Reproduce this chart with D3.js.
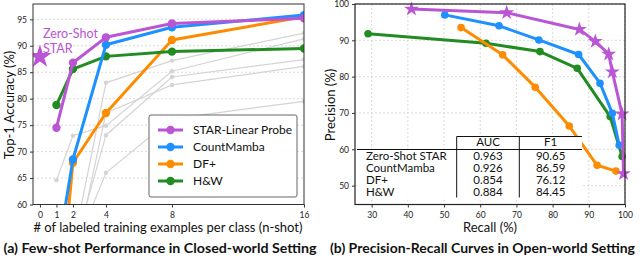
<!DOCTYPE html>
<html><head><meta charset="utf-8">
<script src="https://cdn.jsdelivr.net/npm/d3@7"></script>
<style>
html,body{margin:0;padding:0;background:#fff;}
svg{display:block;font-family:Lato,"Open Sans",sans-serif;}
</style></head>
<body><svg id="c" width="640" height="259"></svg>
<script>
// ---------- data: (a) few-shot ----------
const shots = [1, 2, 4, 8, 16];
const xTicksA = [0, 1, 2, 4, 8, 16];
const yTicksA = [60, 65, 70, 75, 80, 85, 90, 95];
const zeroShotStar = 87.9;
const starLinearProbe = [74.5, 86.8, 91.6, 94.2, 95.2];
const countMambaA = [49.5, 68.5, 90.2, 93.5, 95.8];
const dfPlusA = [35.0, 67.9, 77.3, 91.1, 95.5];
const hwA = [78.8, 85.6, 88.0, 88.9, 89.5];
const baseline1 = [64.6, 73.0, 74.9, 85.2, 91.3];
const baseline2 = [40.0, 52.0, 83.0, 87.2, 92.4];
const baseline3 = [40.0, 50.9, 73.1, 84.1, 87.4];
const baseline4 = [40.0, 50.6, 66.0, 76.2, 79.5];
const baseline5 = [40.0, 48.0, 77.3, 82.6, 86.1];
const legendNames = ["STAR-Linear Probe", "CountMamba", "DF+", "H&W"];

// ---------- data: (b) precision-recall ----------
const xTicksB = [30, 40, 50, 60, 70, 80, 90, 100];
const yTicksB = [50, 60, 70, 80, 90, 100];
const starRecall = [41.0, 67.3, 87.4, 91.8, 95.5, 96.5, 99.2, 99.6];
const starPrecision = [98.6, 97.6, 93.0, 89.7, 86.2, 81.3, 69.7, 53.3];
const cmRecall = [50.2, 65.2, 76.2, 87.2, 93.1, 96.5, 98.4];
const cmPrecision = [97.0, 94.0, 90.1, 86.1, 78.2, 69.9, 61.1];
const dfRecall = [54.7, 66.2, 75.2, 84.6, 92.3, 97.5];
const dfPrecision = [93.5, 86.0, 77.1, 66.4, 55.6, 54.0];
const hwRecall = [29.0, 61.6, 76.5, 86.8, 95.9, 99.2];
const hwPrecision = [91.8, 89.2, 86.9, 82.3, 69.0, 58.0];
const tableMethods = ["Zero-Shot STAR", "CountMamba", "DF+", "H&W"];
const tableAUC = ["0.963", "0.926", "0.854", "0.884"];
const tableF1 = ["90.65", "86.59", "76.12", "84.45"];

const PURPLE = "#BA55D3", BLUE = "#1E90FF", ORANGE = "#FF8C00", GREEN = "#228B22", GRAY = "#d4d4d4";
const svg = d3.select("#c");

// ================= (a) =================
const xA = d3.scaleLinear().domain([-0.42, 16]).range([33, 304]);
const yA = d3.scaleLinear().domain([60, 97.9]).range([204.5, 4]);
const gA = svg.append("g");
gA.append("clipPath").attr("id", "clipA").append("rect")
  .attr("x", 33).attr("y", 4).attr("width", 271).attr("height", 200.5);

gA.selectAll(".gy").data(yTicksA).enter().append("line")
  .attr("x1", 33).attr("x2", 304).attr("y1", d => yA(d)).attr("y2", d => yA(d))
  .attr("stroke", "#d0d0d0").attr("stroke-width", 0.8).attr("stroke-dasharray", "2,2");

const plotA = gA.append("g").attr("clip-path", "url(#clipA)");
const lineA = d3.line().x((d, i) => xA(shots[i])).y(d => yA(d));

[baseline1, baseline2, baseline3, baseline4, baseline5].forEach(s => {
  plotA.append("path").attr("d", lineA(s)).attr("fill", "none")
    .attr("stroke", GRAY).attr("stroke-width", 1.2);
  plotA.selectAll(null).data(s).enter().append("circle")
    .attr("cx", (d, i) => xA(shots[i])).attr("cy", d => yA(d)).attr("r", 2.2).attr("fill", GRAY);
});

const seriesA = [[dfPlusA, ORANGE], [hwA, GREEN], [countMambaA, BLUE], [starLinearProbe, PURPLE]];
seriesA.forEach(([s, c]) => {
  plotA.append("path").attr("d", lineA(s)).attr("fill", "none")
    .attr("stroke", c).attr("stroke-width", 3).attr("stroke-linejoin", "round");
  plotA.selectAll(null).data(s).enter().append("circle")
    .attr("cx", (d, i) => xA(shots[i])).attr("cy", d => yA(d)).attr("r", 4.2).attr("fill", c);
});

plotA.append("path").attr("d", d3.symbol().type(d3.symbolStar).size(170)())
  .attr("transform", `translate(${xA(0)},${yA(zeroShotStar)})`).attr("fill", PURPLE);
const zt = gA.append("text").attr("fill", PURPLE).attr("font-size", 12.5);
zt.append("tspan").attr("x", 43).attr("y", 38).text("Zero-Shot");
zt.append("tspan").attr("x", 43).attr("y", 52.5).text("STAR");

gA.append("rect").attr("x", 33).attr("y", 4).attr("width", 271).attr("height", 200.5)
  .attr("fill", "none").attr("stroke", "#333").attr("stroke-width", 1);

const axA_x = gA.append("g").attr("transform", "translate(0,204.5)")
  .call(d3.axisBottom(xA).tickValues(xTicksA).tickSize(3).tickSizeOuter(0));
const axA_y = gA.append("g").attr("transform", "translate(33,0)")
  .call(d3.axisLeft(yA).tickValues(yTicksA).tickSize(3).tickSizeOuter(0));
[axA_x, axA_y].forEach(a => {
  a.select(".domain").remove();
  a.selectAll("text").attr("font-size", 8.5).attr("fill", "#222").attr("font-family", "Lato");
  a.selectAll("line").attr("stroke", "#333");
});
axA_x.selectAll("text").attr("dy", "0.9em");

const lg = gA.append("g");
lg.append("rect").attr("x", 149).attr("y", 115).attr("width", 148).attr("height", 82).attr("rx", 2)
  .attr("fill", "#fff").attr("fill-opacity", 0.9).attr("stroke", "#666").attr("stroke-width", 1);
const legColors = [PURPLE, BLUE, ORANGE, GREEN];
legendNames.forEach((n, i) => {
  const yy = 130 + i * 17;
  lg.append("line").attr("x1", 158).attr("x2", 183).attr("y1", yy).attr("y2", yy)
    .attr("stroke", legColors[i]).attr("stroke-width", 3);
  lg.append("circle").attr("cx", 170.5).attr("cy", yy).attr("r", 4.2).attr("fill", legColors[i]);
  lg.append("text").attr("x", 193).attr("y", yy).attr("dy", "0.35em").attr("font-size", 12)
    .attr("fill", "#111").text(n);
});

gA.append("text").attr("transform", "translate(14,105) rotate(-90)").attr("text-anchor", "middle")
  .attr("font-size", 13).attr("fill", "#111").text("Top-1 Accuracy (%)");
gA.append("text").attr("x", 168).attr("y", 232).attr("text-anchor", "middle")
  .attr("font-size", 13).attr("fill", "#111")
  .attr("textLength", 269).attr("lengthAdjust", "spacingAndGlyphs")
  .text("# of labeled training examples per class (n-shot)");
gA.append("text").attr("x", 160).attr("y", 253).attr("text-anchor", "middle")
  .attr("font-size", 13.5).attr("font-weight", "bold").attr("fill", "#111")
  .attr("textLength", 313).attr("lengthAdjust", "spacingAndGlyphs")
  .text("(a) Few-shot Performance in Closed-world Setting");

// ================= (b) =================
const xB = d3.scaleLinear().domain([25.4, 100]).range([355, 625]);
const yB = d3.scaleLinear().domain([44.8, 100]).range([204.5, 4]);
const gB = svg.append("g");
gB.append("clipPath").attr("id", "clipB").append("rect")
  .attr("x", 355).attr("y", 0).attr("width", 275).attr("height", 206);

gB.selectAll(".gx").data(xTicksB).enter().append("line")
  .attr("x1", d => xB(d)).attr("x2", d => xB(d)).attr("y1", 4).attr("y2", 204.5)
  .attr("stroke", "#d0d0d0").attr("stroke-width", 0.8).attr("stroke-dasharray", "2,2");
gB.selectAll(".gy").data(yTicksB).enter().append("line")
  .attr("x1", 355).attr("x2", 625).attr("y1", d => yB(d)).attr("y2", d => yB(d))
  .attr("stroke", "#d0d0d0").attr("stroke-width", 0.8).attr("stroke-dasharray", "2,2");

const plotB = gB.append("g").attr("clip-path", "url(#clipB)");
const seriesB = [
  [hwRecall, hwPrecision, GREEN, "circle"],
  [dfRecall, dfPrecision, ORANGE, "circle"],
  [cmRecall, cmPrecision, BLUE, "circle"],
  [starRecall, starPrecision, PURPLE, "star"]
];
seriesB.forEach(([rx, py, c, m]) => {
  const pts = rx.map((r, i) => [xB(r), yB(py[i])]);
  plotB.append("path").attr("d", d3.line()(pts)).attr("fill", "none")
    .attr("stroke", c).attr("stroke-width", 3).attr("stroke-linejoin", "round");
  pts.forEach(p => {
    if (m === "circle") plotB.append("circle").attr("cx", p[0]).attr("cy", p[1]).attr("r", 3.8).attr("fill", c);
    else plotB.append("path").attr("d", d3.symbol().type(d3.symbolStar).size(70)())
      .attr("transform", `translate(${p[0]},${p[1]})`).attr("fill", c);
  });
});

const tb = gB.append("g");
const tL = 357, tC1 = 456.7, tC2 = 519.3, tR = 582, tTop = 136.5, tHead = 149.5, rowH = 12;
const tFont = 11.5;
tb.append("rect").attr("x", tC1).attr("y", tTop).attr("width", tR - tC1).attr("height", tHead - tTop).attr("fill", "#fff");
tb.append("rect").attr("x", tL).attr("y", tHead).attr("width", tR - tL).attr("height", rowH * 4).attr("fill", "#fff");
tb.append("line").attr("x1", tC1).attr("x2", tR).attr("y1", tTop).attr("y2", tTop).attr("stroke", "#111").attr("stroke-width", 1);
tb.append("line").attr("x1", tL).attr("x2", tR).attr("y1", tHead).attr("y2", tHead).attr("stroke", "#111").attr("stroke-width", 1);
[tC1, tC2].forEach(x => tb.append("line").attr("x1", x).attr("x2", x).attr("y1", tTop).attr("y2", tHead + rowH * 4)
  .attr("stroke", "#111").attr("stroke-width", 1));
tb.append("text").attr("x", (tC1 + tC2) / 2).attr("y", tTop + 5.5).attr("dy", "0.36em")
  .attr("text-anchor", "middle").attr("font-size", tFont).attr("fill", "#111").text("AUC");
tb.append("text").attr("x", (tC2 + tR) / 2).attr("y", tTop + 5.5).attr("dy", "0.36em")
  .attr("text-anchor", "middle").attr("font-size", tFont).attr("fill", "#111").text("F1");
tableMethods.forEach((n, i) => {
  const yy = tHead + rowH * i + rowH / 2;
  tb.append("text").attr("x", 366).attr("y", yy).attr("dy", "0.36em").attr("font-size", tFont)
    .attr("fill", "#111").text(n);
  tb.append("text").attr("x", (tC1 + tC2) / 2).attr("y", yy).attr("dy", "0.36em").attr("text-anchor", "middle")
    .attr("font-size", tFont).attr("fill", "#111").text(tableAUC[i]);
  tb.append("text").attr("x", (tC2 + tR) / 2).attr("y", yy).attr("dy", "0.36em").attr("text-anchor", "middle")
    .attr("font-size", tFont).attr("fill", "#111").text(tableF1[i]);
});

gB.append("rect").attr("x", 355).attr("y", 4).attr("width", 270).attr("height", 200.5)
  .attr("fill", "none").attr("stroke", "#222").attr("stroke-width", 1.2);

const axB_x = gB.append("g").attr("transform", "translate(0,204.5)")
  .call(d3.axisBottom(xB).tickValues(xTicksB).tickSize(3).tickSizeOuter(0));
const axB_y = gB.append("g").attr("transform", "translate(355,0)")
  .call(d3.axisLeft(yB).tickValues(yTicksB).tickSize(3).tickSizeOuter(0));
[axB_x, axB_y].forEach(a => {
  a.select(".domain").remove();
  a.selectAll("text").attr("font-size", 8.5).attr("fill", "#222").attr("font-family", "Lato");
  a.selectAll("line").attr("stroke", "#333");
});
axB_x.selectAll("text").attr("dy", "0.9em");

gB.append("text").attr("transform", "translate(335,105) rotate(-90)").attr("text-anchor", "middle")
  .attr("font-size", 13).attr("fill", "#111").text("Precision (%)");
gB.append("text").attr("x", 490).attr("y", 232).attr("text-anchor", "middle")
  .attr("font-size", 13).attr("fill", "#111").text("Recall (%)");
gB.append("text").attr("x", 482.5).attr("y", 253).attr("text-anchor", "middle")
  .attr("font-size", 13.5).attr("font-weight", "bold").attr("fill", "#111")
  .attr("textLength", 305).attr("lengthAdjust", "spacingAndGlyphs")
  .text("(b) Precision-Recall Curves in Open-world Setting");
</script></body></html>
